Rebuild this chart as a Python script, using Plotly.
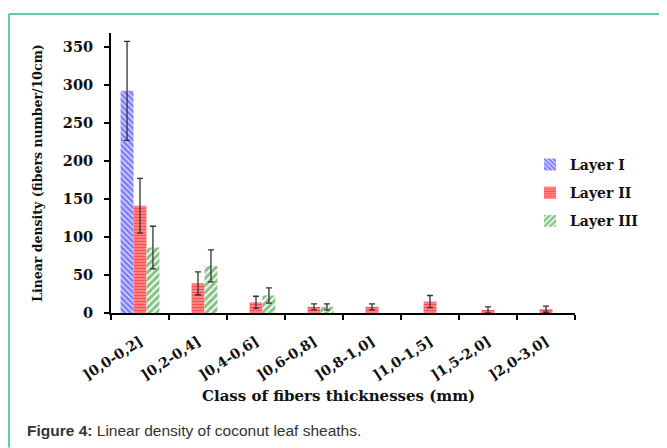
import plotly.graph_objects as go

categories = ["]0,0-0,2]", "]0,2-0,4]", "]0,4-0,6]", "]0,6-0,8]",
              "]0,8-1,0]", "]1,0-1,5]", "]1,5-2,0]", "]2,0-3,0]"]
layer1 = [292, 0, 0, 0, 0, 0, 0, 0]
layer1_err = [65, 0, 0, 0, 0, 0, 0, 0]
layer2 = [141, 39, 14, 8, 8, 15, 4, 5]
layer2_err = [36, 15, 8, 4, 4, 8, 4, 4]
layer3 = [86, 62, 23, 8, 0, 0, 0, 0]
layer3_err = [28, 21, 10, 4, 0, 0, 0, 0]
series_names = ["Layer I", "Layer II", "Layer III"]

def vis_err(vals, errs):
    return [e if v > 0 else None for v, e in zip(vals, errs)]

def vis_val(vals):
    return [v if v > 0 else None for v in vals]

fig = go.Figure()
specs = [
    (layer1, layer1_err, dict(shape="\\", fgcolor="#0000ff", bgcolor="#ffffff", size=4, solidity=0.75)),
    (layer2, layer2_err, dict(shape="-", fgcolor="#ff0000", bgcolor="#ff9a9a", size=3, solidity=0.55)),
    (layer3, layer3_err, dict(shape="/", fgcolor="#0f870f", bgcolor="#ffffff", size=5, solidity=0.65)),
]
for name, (vals, errs, pat) in zip(series_names, specs):
    fig.add_trace(go.Bar(
        x=categories, y=vis_val(vals), name="<b>" + name + "</b>", legendgroup=name,
        marker=dict(color=pat["bgcolor"], pattern=pat, line=dict(width=0)),
        error_y=dict(type="data", array=vis_err(vals, errs), visible=True,
                     color="#333333", thickness=1.3, width=3),
    ))

serif = "DejaVu Serif"
O = 8  # page body margin
W, H = 667 - O, 448 - O
L, R, T, B = 111 - O, 575 - O, 33 - O, 313.3 - O
pw, ph = R - L, B - T

def px(x):
    return (x - O - L) / pw

def py(y):
    return (B - (y - O)) / ph

fig.update_layout(
    width=W, height=H,
    margin=dict(l=L, r=W - R, t=T, b=H - B),
    paper_bgcolor="white", plot_bgcolor="white",
    barmode="group", bargap=0.33, bargroupgap=0,
    font=dict(family=serif, color="#111111"),
    showlegend=True,
    legend=dict(x=px(530), y=py(149), xanchor="left", yanchor="top",
                font=dict(family=serif, size=14, color="#111111"),
                traceorder="grouped", tracegroupgap=7,
                bgcolor="rgba(0,0,0,0)", itemwidth=30),
    xaxis=dict(
        type="category", showline=True, linecolor="black", linewidth=2,
        ticks="outside", tickson="boundaries", ticklen=5, tickwidth=2, tickcolor="black",
        tickangle=-33, tickfont=dict(family=serif, size=14, color="#111111"),
        ticklabelstandoff=13,
        showgrid=False, zeroline=False, automargin=False,
        tickprefix="<b>", ticksuffix="</b>",
    ),
    yaxis=dict(
        range=[0, 368], dtick=50, showline=True, linecolor="black", linewidth=2,
        ticks="outside", ticklen=5, tickwidth=2, tickcolor="black",
        tickfont=dict(family=serif, size=14.5, color="#111111"),
        ticklabelstandoff=8,
        tickprefix="<b>", ticksuffix="</b>",
        showgrid=False, zeroline=False, automargin=False,
    ),
    shapes=[
        dict(type="line", xref="paper", yref="paper", x0=px(9), x1=px(667),
             y0=py(14), y1=py(14), line=dict(color="#2bb7a3", width=1.5)),
        dict(type="line", xref="paper", yref="paper", x0=px(9), x1=px(9),
             y0=py(14), y1=py(448), line=dict(color="#2bb7a3", width=1.5)),
    ],
    annotations=[
        dict(text="<b>Class of fibers thicknesses (mm)</b>",
             xref="paper", yref="paper", x=px(338), y=py(396),
             xanchor="center", yanchor="middle", showarrow=False,
             font=dict(family=serif, size=15, color="#111111")),
        dict(text="<b>Linear density (fibers number/10cm)</b>",
             xref="paper", yref="paper", x=px(38), y=py(173),
             xanchor="center", yanchor="middle", showarrow=False, textangle=-90,
             font=dict(family=serif, size=12.5, color="#111111")),
        dict(text="<b>Figure 4:</b> Linear density of coconut leaf sheaths.",
             xref="paper", yref="paper", x=px(25), y=py(431),
             xanchor="left", yanchor="middle", showarrow=False,
             font=dict(family="Liberation Sans", size=15.5, color="#333333")),
    ],
)

fig.write_html("out.html")
